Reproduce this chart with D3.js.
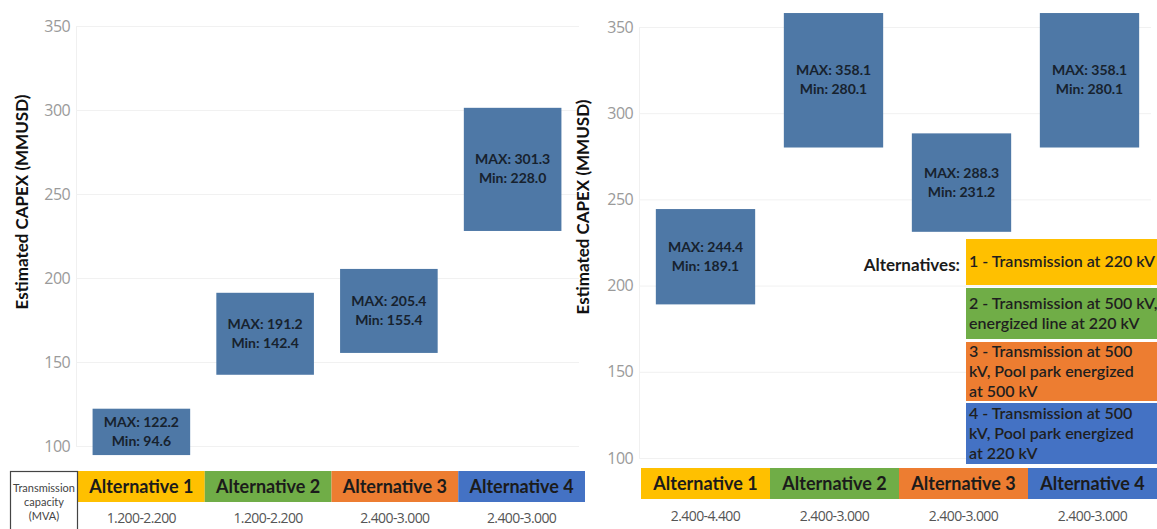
<!DOCTYPE html>
<html>
<head>
<meta charset="utf-8">
<script src="https://cdn.jsdelivr.net/npm/d3@7"></script>
<style>
  body { margin: 0; background: #fff; }
  svg { font-family: Lato, "Open Sans", sans-serif; }
</style>
</head>
<body>
<div id="chart"></div>
<script>
// chart values
var alternatives = ["Alternative 1", "Alternative 2", "Alternative 3", "Alternative 4"];
var altColors = ["#ffc000", "#70ad47", "#ed7d31", "#4472c4"];
var yTicks = [100, 150, 200, 250, 300, 350];

var leftMax = [122.2, 191.2, 205.4, 301.3];
var leftMin = [94.6, 142.4, 155.4, 228.0];
var leftCapacity = ["1.200-2.200", "1.200-2.200", "2.400-3.000", "2.400-3.000"];

var rightMax = [244.4, 358.1, 288.3, 358.1];
var rightMin = [189.1, 280.1, 231.2, 280.1];
var rightCapacity = ["2.400-4.400", "2.400-3.000", "2.400-3.000", "2.400-3.000"];

var legendLines = [
  ["1 - Transmission at 220 kV"],
  ["2 - Transmission at 500 kV,", "energized line at 220 kV"],
  ["3 - Transmission at 500", "kV, Pool park energized", "at 500 kV"],
  ["4 - Transmission at 500", "kV, Pool park energized", "at 220 kV"]
];

var barColor = "#4e78a6";

var svg = d3.select("#chart").append("svg").attr("width", 1157).attr("height", 529);

var panels = [
  {max: leftMax, min: leftMin, cap: leftCapacity, x0: 78, x1: 585, yTop: 26, yBot: 446, head: 471, capY: 523, titleX: 22, titleY: 202, barShift: -3},
  {max: rightMax, min: rightMin, cap: rightCapacity, x0: 641, x1: 1157, yTop: 27, yBot: 458, head: 468, capY: 521, titleX: 583, titleY: 207, barShift: -1}
];

panels.forEach(function(p){
  var x = d3.scaleBand().domain(alternatives).range([p.x0, p.x1]);
  var y = d3.scaleLinear().domain([100, 350]).range([p.yBot, p.yTop]);
  var bw = x.bandwidth() * 0.77;
  var g = svg.append("g");

  // gridlines + tick labels
  var axis = d3.axisLeft(y).tickValues(yTicks).tickSize(-(p.x1 - p.x0 - 4)).tickPadding(6);
  var ag = g.append("g").attr("transform", "translate(" + (p.x0 - 2) + ",0)").call(axis);
  ag.select(".domain").attr("stroke", "#f0f0f0");
  ag.selectAll(".tick line").attr("stroke", "#f1f1f1");
  ag.selectAll(".tick text").attr("fill", "#9a9a9a").style("font-size", "16px")
    .style("letter-spacing", "-0.6px").attr("font-family", "'Open Sans', sans-serif");

  // axis title
  g.append("text")
    .attr("transform", "translate(" + p.titleX + "," + p.titleY + ") rotate(-90)")
    .attr("text-anchor", "middle").attr("dy", "0.35em")
    .style("font-size", "17px").style("font-weight", "bold").attr("fill", "#111")
    .text("Estimated CAPEX (MMUSD)");

  // range bars
  var bars = g.selectAll(".bar").data(alternatives).enter().append("g");
  bars.append("rect")
    .attr("x", function(d, i){ return x(d) + (x.bandwidth() - bw) / 2 + p.barShift * i; })
    .attr("width", bw)
    .attr("y", function(d, i){ return y(p.max[i]); })
    .attr("height", function(d, i){ return y(p.min[i]) - y(p.max[i]); })
    .attr("fill", barColor);
  bars.each(function(d, i){
    var cy = (y(p.max[i]) + y(p.min[i])) / 2;
    var cx = x(d) + x.bandwidth() / 2 + p.barShift * i;
    var t = d3.select(this).append("text").attr("text-anchor", "middle")
      .style("font-size", "14px").style("font-weight", "bold").attr("fill", "#17222e");
    t.append("tspan").attr("x", cx).attr("y", cy - 5).text("MAX: " + p.max[i].toFixed(1));
    t.append("tspan").attr("x", cx).attr("y", cy + 14).text("Min: " + p.min[i].toFixed(1));
  });

  // header boxes
  var hd = g.selectAll(".head").data(alternatives).enter().append("g");
  hd.append("rect")
    .attr("x", function(d){ return x(d); }).attr("y", p.head)
    .attr("width", x.bandwidth()).attr("height", 31)
    .attr("fill", function(d, i){ return altColors[i]; });
  hd.append("text")
    .attr("x", function(d){ return x(d) + x.bandwidth() / 2; })
    .attr("y", p.head + 22)
    .attr("text-anchor", "middle")
    .style("font-size", "18px").style("font-weight", "bold").attr("fill", "#1b1b1b")
    .text(function(d){ return d; });
  hd.append("text")
    .attr("x", function(d){ return x(d) + x.bandwidth() / 2; })
    .attr("y", p.capY)
    .attr("text-anchor", "middle")
    .style("font-size", "14px").style("letter-spacing", "-0.6px").attr("fill", "#555")
    .attr("font-family", "'Open Sans', sans-serif")
    .text(function(d, i){ return p.cap[i]; });
});

// transmission capacity box (left panel)
svg.append("rect").attr("x", 10.5).attr("y", 471.5).attr("width", 67).attr("height", 60)
  .attr("fill", "#fff").attr("stroke", "#444").attr("stroke-width", 1.2);
var tc = svg.append("text").attr("text-anchor", "middle").attr("fill", "#444").style("font-size", "11px");
["Transmission", "capacity", "(MVA)"].forEach(function(s, i){
  tc.append("tspan").attr("x", 44).attr("y", 492 + i * 14).text(s);
});

// legend
var legTop = [239, 288, 342, 403];
var legH = [46, 51, 59, 61];
svg.append("text").attr("x", 960).attr("y", 271).attr("text-anchor", "end")
  .style("font-size", "17px").style("font-weight", "bold").attr("fill", "#1b1b1b").text("Alternatives:");
var lg = svg.selectAll(".leg").data(legendLines).enter().append("g");
lg.append("rect").attr("x", 966).attr("width", 191)
  .attr("y", function(d, i){ return legTop[i]; })
  .attr("height", function(d, i){ return legH[i]; })
  .attr("fill", function(d, i){ return altColors[i]; });
lg.each(function(lines, i){
  var t = d3.select(this).append("text").style("font-size", "16px").style("font-weight", 600).attr("fill", "#1f1f1f");
  var start = legTop[i] + legH[i] / 2 - (lines.length - 1) * 10 + 5;
  lines.forEach(function(s, j){
    t.append("tspan").attr("x", 969).attr("y", start + j * 20).text(s);
  });
});
</script>
</body>
</html>
